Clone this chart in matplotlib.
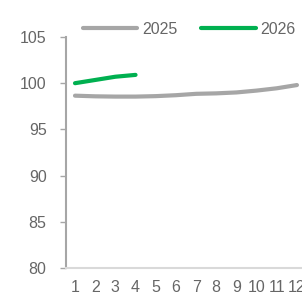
import matplotlib
matplotlib.use("Agg")
import matplotlib.pyplot as plt

plt.rcParams["font.family"] = ["Liberation Sans", "DejaVu Sans"]

MONTHS = list(range(1, 13))
Y2025 = [98.65, 98.58, 98.55, 98.55, 98.6, 98.7, 98.85, 98.9, 99.0, 99.2, 99.45, 99.8]
Y2026 = [100.0, 100.35, 100.7, 100.9]
YTICKS = [80, 85, 90, 95, 100, 105]

GRAY = "#a6a6a6"
GREEN = "#00b050"
TXT = "#666666"

fig = plt.figure(figsize=(3.02, 3.0), dpi=100)
ax = fig.add_axes([66 / 302, 1 - 268 / 300, 1 - 66 / 302, (268 - 37) / 300])

ax.plot(MONTHS, Y2025, color=GRAY, lw=3, solid_capstyle="round", label="2025")
ax.plot(MONTHS[:len(Y2026)], Y2026, color=GREEN, lw=3, solid_capstyle="round", label="2026")

ax.set_xlim(0.554, 12.25)
ax.set_ylim(80, 105)
ax.set_yticks(YTICKS)
ax.set_xticks(MONTHS)
ax.tick_params(axis="y", length=4, width=1, color=GRAY, labelcolor=TXT, labelsize=11.5, pad=10)
ax.tick_params(axis="x", length=0, labelcolor=TXT, labelsize=11.5, pad=9)
for s in ["top", "right"]:
    ax.spines[s].set_visible(False)
ax.spines["left"].set_color(GRAY)
ax.spines["left"].set_linewidth(1.5)
ax.spines["bottom"].set_color("#d9d9d9")
ax.spines["bottom"].set_linewidth(1.5)

fig.legend(loc="center left", bbox_to_anchor=(83 / 302, 1 - 29 / 300), ncol=2,
           frameon=False, fontsize=11.5, handlelength=3.4, handletextpad=0.3,
           columnspacing=1.5, labelcolor=TXT, borderaxespad=0, borderpad=0)

fig.savefig("out.png", dpi=100)
